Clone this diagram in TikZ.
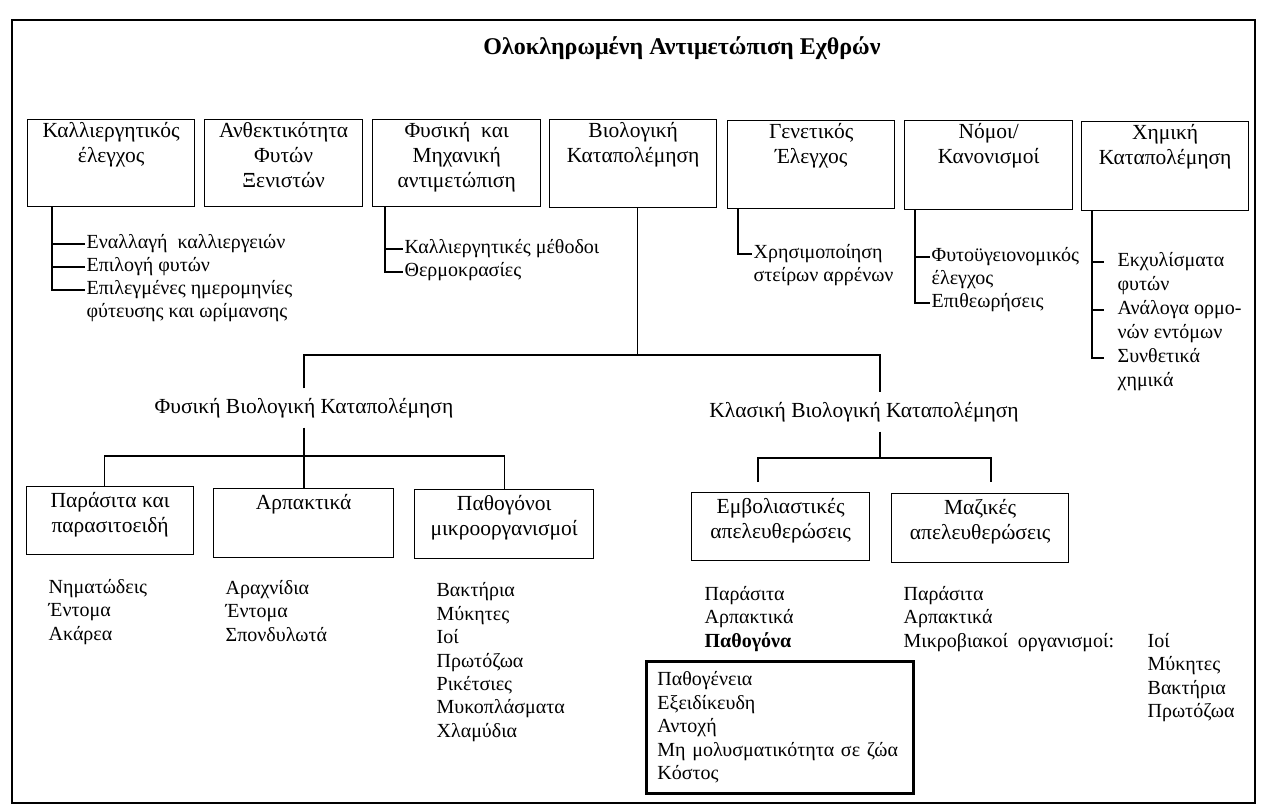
\documentclass[tikz,border=0pt]{standalone}
\usepackage{fontspec}
\setmainfont{Liberation Serif}
\usetikzlibrary{positioning}
\newcommand{\boxtxt}[4]{\parbox[c][#1][t]{#2}{\centering\vspace*{#3}#4}}

\begin{document}
\begin{tikzpicture}[x=1pt,y=-1pt,line width=1.3pt,
        box/.style={draw,inner sep=0pt,anchor=north west,font=\fontsize{21.5}{25}\selectfont},
        item/.style={anchor=west,inner xsep=1pt,inner ysep=0pt,text height=14pt,text depth=5pt},
        head/.style={inner xsep=2pt,inner ysep=9pt,font=\fontsize{21.5}{25}\selectfont}]
                \tikzstyle{every node}=[font=\fontsize{20}{23.5}\selectfont]
                \useasboundingbox (0,0) rectangle (1261,805);
                \draw[line width=2pt] (12,20) rectangle (1255,803);
                \node[font=\bfseries\fontsize{24}{28}\selectfont] (title) at (682,48) {Ολοκληρωμένη Αντιμετώπιση Εχθρών};
                % top row
                \node[box] (cult) at (27,119) {\boxtxt{87pt}{167pt}{3pt}{Καλλιεργητικός\\έλεγχος}};
                \node[box] (resist) at (204,119) {\boxtxt{87pt}{158pt}{3pt}{Ανθεκτικότητα\\Φυτών\\Ξενιστών}};
                \node[box] (phys) at (372,119) {\boxtxt{87pt}{168pt}{3pt}{Φυσική \ και\\Μηχανική\\αντιμετώπιση}};
                \node[box] (bio) at (549,119) {\boxtxt{88pt}{167pt}{3pt}{Βιολογική\\Καταπολέμηση}};
                \node[box] (gen) at (727,120) {\boxtxt{88pt}{167pt}{3pt}{Γενετικός\\Έλεγχος}};
                \node[box] (law) at (904,120) {\boxtxt{89pt}{168pt}{3pt}{Νόμοι/\\Κανονισμοί}};
                \node[box] (chem) at (1081,121) {\boxtxt{89pt}{167pt}{3pt}{Χημική\\Καταπολέμηση}};
                % lists under the top row
                \node[item] (rot) at (85,244) {Εναλλαγή \ καλλιεργειών};
                \node[item] (sel) at (85,267) {Επιλογή φυτών};
                \node[item] (dat) at (85,290) {Επιλεγμένες ημερομηνίες};
                \node[item] (dat2) at (85,313) {φύτευσης και ωρίμανσης};
                \foreach \n in {rot,sel,dat}
                    {
                        \draw ([xshift=25pt]cult.south west) |- (\n.west);
                    }
                \node[item] (meth) at (403,249) {Καλλιεργητικές μέθοδοι};
                \node[item] (temp) at (403,272) {Θερμοκρασίες};
                \foreach \n in {meth,temp}
                    {
                        \draw ([xshift=13pt]phys.south west) |- (\n.west);
                    }
                \node[item] (ster) at (752,254) {Χρησιμοποίηση};
                \node[item] (ster2) at (752,277) {στείρων αρρένων};
                \draw ([xshift=11pt]gen.south west) |- (ster.west);
                \node[item] (phy) at (930,257) {Φυτοϋγειονομικός};
                \node[item] (phy2) at (930,280) {έλεγχος};
                \node[item] (insp) at (930,303) {Επιθεωρήσεις};
                \foreach \n in {phy,insp}
                    {
                        \draw ([xshift=11pt]law.south west) |- (\n.west);
                    }
                \foreach \t [count=\i] in {Εκχυλίσματα,φυτών,Ανάλογα ορμο-,νών εντόμων,Συνθετικά,χημικά}
                    {
                        \node[item] (chm\i) at (1116,{238+24*\i}) {\t};
                    }
                \foreach \n in {chm1,chm3,chm5}
                    {
                        \draw ([xshift=11pt]chem.south west) |- ([xshift=-12pt]\n.west);
                    }
                % biological control
                \node[head] (fys) at (304,408) {Φυσική Βιολογική Καταπολέμηση};
                \node[head] (kla) at (864,412) {Κλασική Βιολογική Καταπολέμηση};
                \coordinate (bus) at (0,355);
                \coordinate (klain) at ([xshift=16pt]kla.north);
                \coordinate (klaout) at ([xshift=16pt]kla.south);
                \draw ([xshift=4pt]bio.south) -- ([xshift=4pt]bio.south |- bus);
                \draw (fys.north) |- (klain |- bus) -- (klain);
                \node[box] (par) at (26,486) {\boxtxt{68pt}{167pt}{6pt}{Παράσιτα και\\παρασιτοειδή}};
                \node[box] (arp) at (213,488) {\boxtxt{69pt}{180pt}{6pt}{Αρπακτικά}};
                \node[box] (pth) at (414,489) {\boxtxt{69pt}{179pt}{6pt}{Παθογόνοι\\μικροοργανισμοί}};
                \coordinate (lbus) at (0,456);
                \draw (fys.south) -- (fys.south |- arp.north);
                \draw ([xshift=-6pt]par.north) |- (lbus -| pth.north) -- (pth.north);
                \node[box] (emb) at (691,492) {\boxtxt{68pt}{178pt}{6pt}{Εμβολιαστικές\\απελευθερώσεις}};
                \node[box] (maz) at (891,493) {\boxtxt{69pt}{177pt}{6pt}{Μαζικές\\απελευθερώσεις}};
                \coordinate (rbus) at (0,458);
                \coordinate (embin) at (758,482);
                \coordinate (mazin) at (991,482);
                \draw (klaout) -- (klaout |- rbus);
                \draw (embin) |- (mazin |- rbus) -- (mazin);
                % lists under the boxes
                \foreach \t [count=\i] in {Νηματώδεις,Έντομα,Ακάρεα}
                    {
                        \node[item] (nem\i) at (47,{565+23.5*\i}) {\t};
                    }
                \foreach \t [count=\i] in {Αραχνίδια,Έντομα,Σπονδυλωτά}
                    {
                        \node[item] (ara\i) at (224,{566+23.5*\i}) {\t};
                    }
                \foreach \t [count=\i] in {Βακτήρια,Μύκητες,Ιοί,Πρωτόζωα,Ρικέτσιες,Μυκοπλάσματα,Χλαμύδια}
                    {
                        \node[item] (bak\i) at (435,{569+23.4*\i}) {\t};
                    }
                \foreach \t [count=\i] in {Παράσιτα,Αρπακτικά,\textbf{Παθογόνα}}
                    {
                        \node[item] (emb\i) at (703,{572+23.5*\i}) {\t};
                    }
                \foreach \t [count=\i] in {Παράσιτα,Αρπακτικά,Μικροβιακοί \ οργανισμοί:}
                    {
                        \node[item] (maz\i) at (902,{572+23.5*\i}) {\t};
                    }
                \foreach \t [count=\i] in {Ιοί,Μύκητες,Βακτήρια,Πρωτόζωα}
                    {
                        \node[item] (mic\i) at (1146,{619+23.5*\i}) {\t};
                    }
                \node[draw,line width=2.8pt,anchor=north west,minimum width=267pt,minimum height=132pt,
                    text width=245pt,align=left,inner xsep=11pt] (crit) at (645,660)
                    {Παθογένεια\\Εξειδίκευδη\\Αντοχή\\Μη μολυσματικότητα σε ζώα\\Κόστος};
            \end{tikzpicture}
\end{document}
